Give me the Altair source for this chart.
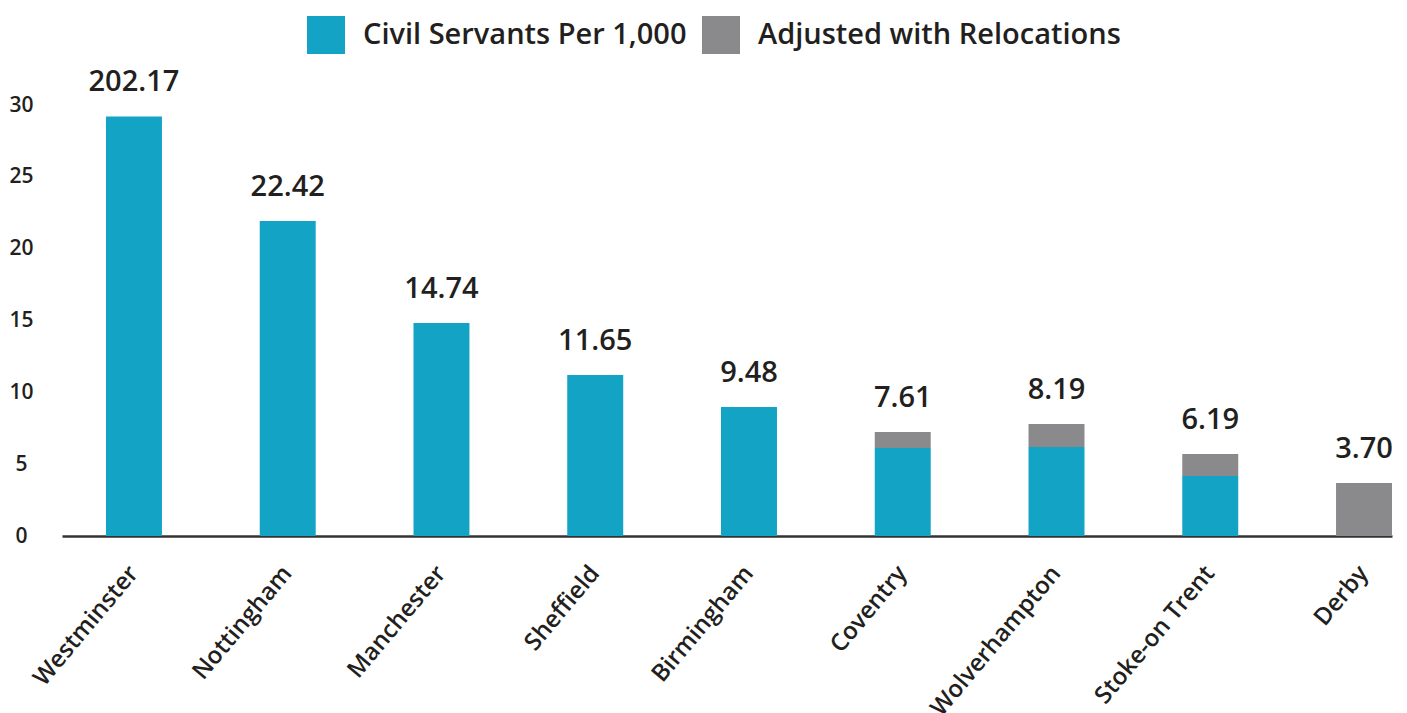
import altair as alt
import pandas as pd

cities = ["Westminster", "Nottingham", "Manchester", "Sheffield", "Birmingham",
          "Coventry", "Wolverhampton", "Stoke-on Trent", "Derby"]
civil = [29.2, 21.92, 14.82, 11.2, 8.98, 6.12, 6.19, 4.18, 0.0]
relocation_extra = [0.0, 0.0, 0.0, 0.0, 0.0, 1.12, 1.60, 1.53, 3.69]
value_labels = ["202.17", "22.42", "14.74", "11.65", "9.48", "7.61", "8.19", "6.19", "3.70"]
series = ["Civil Servants Per 1,000", "Adjusted with Relocations"]
colors = ["#12a3c5", "#8a8a8c"]
y_ticks = [0, 5, 10, 15, 20, 25, 30]

rows = []
for c, a, b in zip(cities, civil, relocation_extra):
    rows.append({"city": c, "series": series[0], "value": a, "ord": 0})
    rows.append({"city": c, "series": series[1], "value": b, "ord": 1})
bars_df = pd.DataFrame(rows)
labels_df = pd.DataFrame({
    "city": cities,
    "total": [a + b for a, b in zip(civil, relocation_extra)],
    "label": value_labels,
})

FONT = "Open Sans"
TXT = "#231f20"

x_enc = alt.X(
    "city:N", sort=cities, title=None,
    scale=alt.Scale(paddingInner=0.636, paddingOuter=0.143, align=1),
    axis=alt.Axis(labelAngle=-50, labelFont=FONT, labelFontSize=24, labelFontWeight=600,
                  labelColor=TXT, ticks=False, labelPadding=33, labelLimit=400,
                  domainColor="#333333", domainWidth=2.5),
)

bars = alt.Chart(bars_df).mark_bar().encode(
    x=x_enc,
    y=alt.Y("value:Q", stack="zero", title=None,
            scale=alt.Scale(domain=[0, 30], nice=False),
            axis=alt.Axis(values=y_ticks, domain=False, ticks=False, grid=False,
                          labelFont=FONT, labelFontSize=21, labelFontWeight=600,
                          labelColor=TXT, labelAlign="center", labelPadding=41)),
    color=alt.Color("series:N", scale=alt.Scale(domain=series, range=colors),
                    legend=alt.Legend(title=None, orient="none", direction="horizontal",
                                      legendX=245, legendY=-89, symbolType="square",
                                      symbolSize=1444, symbolStrokeWidth=0, symbolOpacity=1,
                                      labelFont=FONT, labelFontSize=29, labelFontWeight=600,
                                      labelColor=TXT, labelOffset=18, columnPadding=15,
                                      padding=0, labelLimit=700,
                                      labelExpr="indexof(datum.label, 'Adjusted') >= 0 ? '\\u2003\\u00a0' + datum.label : datum.label")),
    order=alt.Order("ord:Q", sort="ascending"),
)

text = alt.Chart(labels_df).mark_text(
    font=FONT, fontSize=29, fontWeight=600, color=TXT, baseline="alphabetic", dy=-25
).encode(
    x=alt.X("city:N", sort=cities),
    y=alt.Y("total:Q"),
    text="label:N",
)

chart = alt.layer(bars, text).properties(
    width=1330, height=431,
    padding={"left": 0, "top": 8, "right": 5, "bottom": 5},
).configure_view(stroke=None)

chart.save("out.html", embed_options={"renderer": "svg", "actions": False})
